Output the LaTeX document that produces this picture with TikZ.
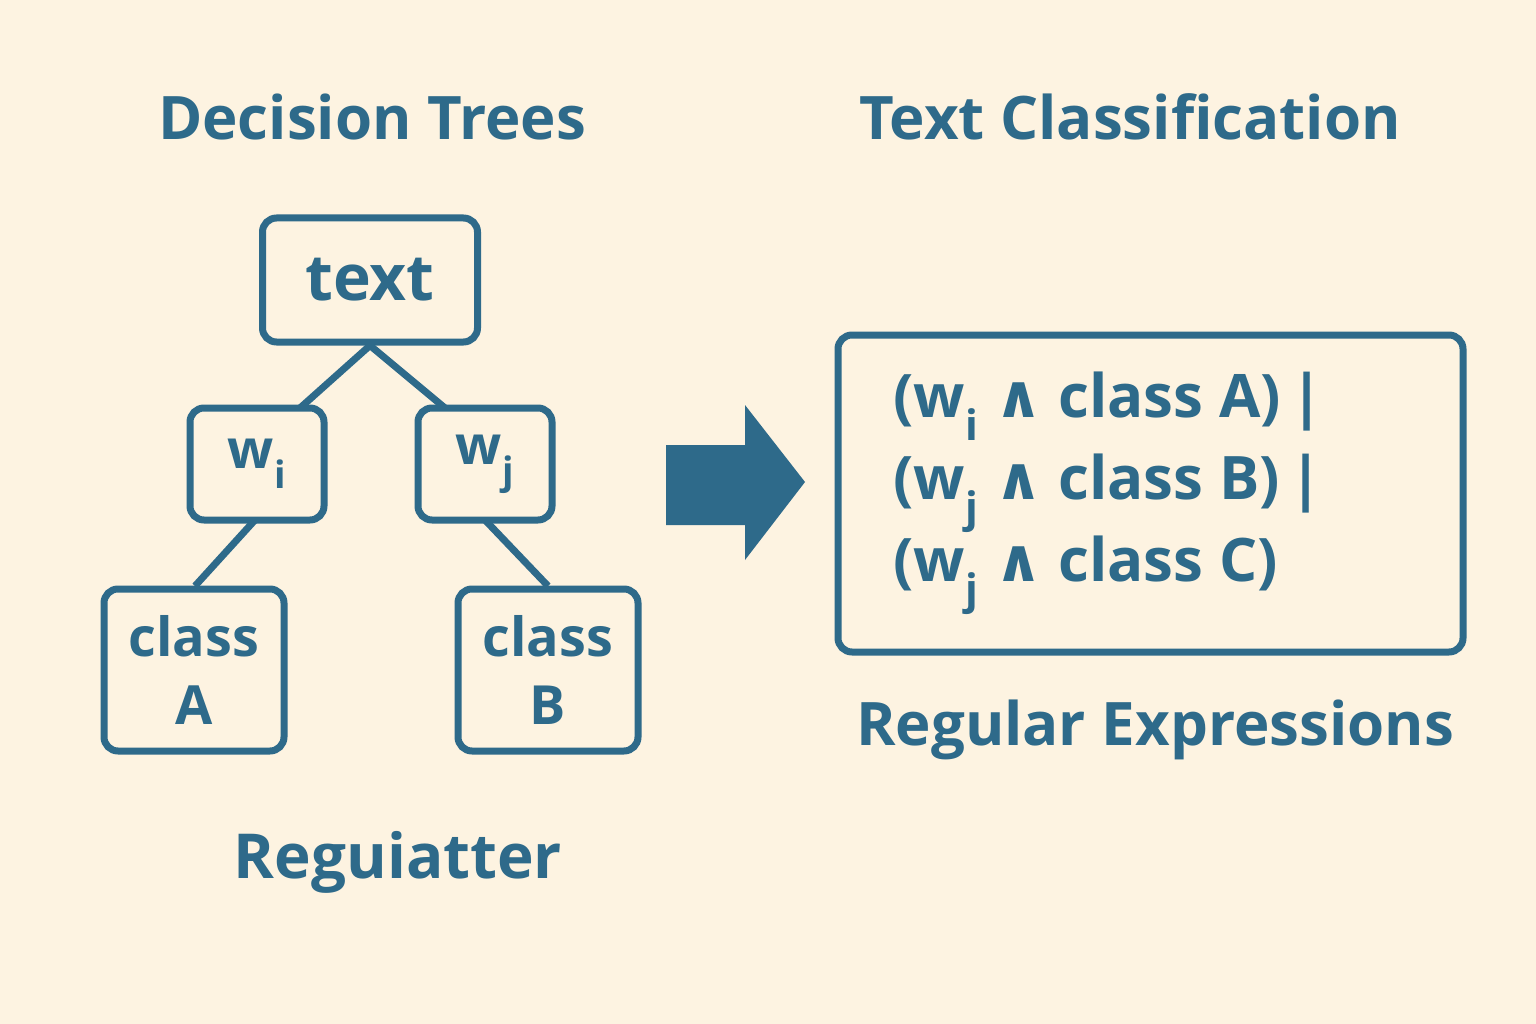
\documentclass[tikz,border=0pt]{standalone}
\usepackage{fontspec}
\setmainfont{Open Sans}
\newfontfamily\symf{DejaVu Sans}
\begin{document}
\definecolor{bg}{HTML}{FDF3E1}
\definecolor{bl}{HTML}{2E6A8A}
\begin{tikzpicture}[x=1pt,y=-1pt,
  box/.style={draw=bl,line width=7pt,rounded corners=14pt,text=bl,font=\bfseries,align=center,inner sep=0pt},
  ttl/.style={text=bl,font=\fontsize{60}{70}\selectfont\bfseries},
  edge/.style={draw=bl,line width=7pt}]
\fill[bg] (0,0) rectangle (1536,1024);
\useasboundingbox (0,0) rectangle (1536,1024);
\node[ttl] (t1) at (372,117) {Decision Trees};
\node[ttl] (t2) at (1130,117) {Text Classification};
\node[ttl] (t3) at (1155,730) {Regular Expressions};
\node[ttl,font=\fontsize{62}{70}\selectfont\bfseries] (t4) at (398,862) {Reguiatter};
\node[box,minimum width=215pt,minimum height=124pt,font=\fontsize{64}{70}\selectfont\bfseries] (tx) at (370,280) {text};
\node[box,minimum width=134pt,minimum height=112pt,font=\fontsize{54}{60}\selectfont\bfseries] (wi) at (257,464) {w\textsubscript{i}};
\node[box,minimum width=134pt,minimum height=112pt,font=\fontsize{54}{60}\selectfont\bfseries] (wj) at (485,464) {w\textsubscript{j}};
\node[box,minimum width=180pt,minimum height=162pt,font=\fontsize{54}{68}\selectfont\bfseries] (ca) at (194,670) {class\\A};
\node[box,minimum width=180pt,minimum height=162pt,font=\fontsize{54}{68}\selectfont\bfseries] (cb) at (548,670) {class\\B};
\draw[edge] (tx.south) -- (300,408) coordinate (a1);
\draw[edge] (tx.south) -- (445,408) coordinate (a2);
\draw[edge] (255,520) coordinate (a3) -- (195,586) coordinate (a4);
\draw[edge] (485,520) coordinate (a5) -- (548,586) coordinate (a6);
\fill[bl] (666,445) -- (745,445) -- (745,405) -- (805,482) -- (745,560) -- (745,525) -- (666,525) -- cycle;
\node[box,minimum width=625pt,minimum height=317pt] (rx) at (1150.5,493.5) {};
\node[text=bl,font=\fontsize{60}{82}\selectfont\bfseries,align=left,anchor=west] (rt) at (890,493)
 {(w\textsubscript{i} {\symf ∧} class A)\,|\\(w\textsubscript{j} {\symf ∧} class B)\,|\\(w\textsubscript{j} {\symf ∧} class C)};
\end{tikzpicture}
\end{document}
